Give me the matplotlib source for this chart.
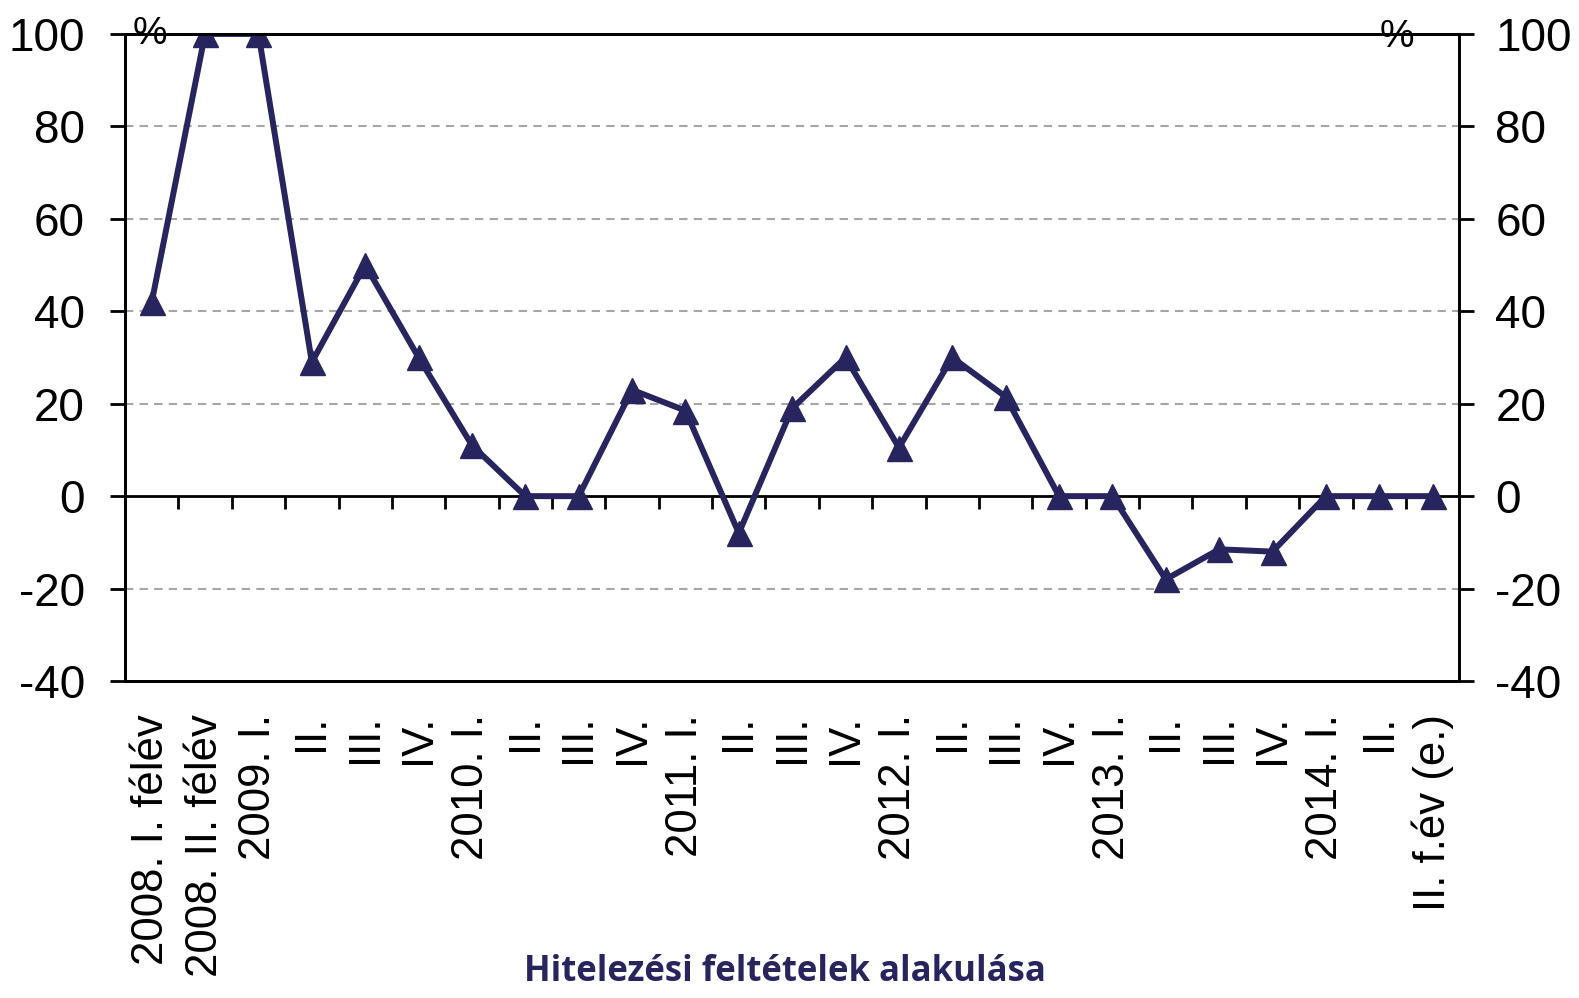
import numpy as np
import matplotlib
matplotlib.use("Agg")
import matplotlib.pyplot as plt

categories = ["2008. I. félév", "2008. II. félév", "2009. I.", "II.", "III.", "IV.",
              "2010. I.", "II.", "III.", "IV.", "2011. I.", "II.", "III.", "IV.",
              "2012. I.", "II.", "III.", "IV.", "2013. I.", "II.", "III.", "IV.",
              "2014. I.", "II.", "II. f.év (e.)"]
values = [42, 100, 100, 29, 50, 30, 11, 0, 0, 23, 18.5, -8, 19, 30,
          10.5, 30, 21.5, 0, 0, -18, -11.5, -12, 0, 0, 0]
yticks = [-40, -20, 0, 20, 40, 60, 80, 100]
title = "Hitelezési feltételek alakulása"

navy = "#27245E"
plt.rcParams['font.family'] = ['Liberation Sans', 'DejaVu Sans']

fig = plt.figure(figsize=(15.79, 9.98), dpi=100)
ax = fig.add_axes([0.0792, 0.3176, 0.845, 0.6484])

x = np.arange(len(categories))
ax.set_xlim(-0.5, len(categories) - 0.5)
ax.set_ylim(-40, 100)

# gridlines
for y in yticks:
    if y not in (-40, 0, 100):
        ax.axhline(y, color="#A6A6A6", lw=1.5, ls=(0, (4, 3)), zorder=1)
ax.axhline(0, color="black", lw=2, zorder=2)
ax.vlines(x[:-1] + 0.5, -2.7, 0, color="black", lw=2, zorder=2)

ax.plot(x, values, color=navy, lw=4.3, marker="^", ms=18, zorder=3)

ax.set_yticks(yticks)
ax.set_yticklabels([str(t) for t in yticks], fontsize=33)
ax.tick_params(axis="y", length=11, width=2, pad=18)
ax.set_xticks(x)
ax.set_xticklabels(categories, rotation=90, fontsize=31.5, va="top", ha="center")
ax.tick_params(axis="x", length=0, pad=24)
for s in ax.spines.values():
    s.set_linewidth(2)

ax2 = ax.twinx()
ax2.set_ylim(-40, 100)
ax2.set_yticks(yticks)
ax2.set_yticklabels([str(t) for t in yticks], fontsize=33)
ax2.tick_params(axis="y", length=11, width=2, pad=15)
for s in ax2.spines.values():
    s.set_linewidth(2)

ax.text(0.006, 1.0, "%", transform=ax.transAxes, fontsize=28, va="center", ha="left")
ax.text(0.94, 0.995, "%", transform=ax.transAxes, fontsize=28, va="center", ha="left")

fig.text(0.497, 0.008, title, fontsize=25, fontweight="bold", color=navy,
         ha="center", va="bottom", family="Open Sans")

fig.savefig("out.png", dpi=100)
